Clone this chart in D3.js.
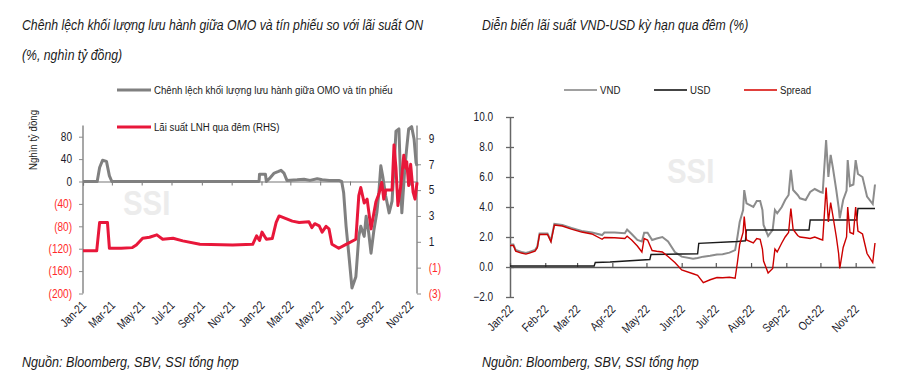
<!DOCTYPE html>
<html>
<head>
<meta charset="utf-8">
<script src="https://cdnjs.cloudflare.com/ajax/libs/d3/7.8.5/d3.min.js"></script>
<style>
	body { margin: 0; background: #fff; }
	svg text { font-family: "Liberation Sans", Arial, sans-serif; }
	.title { font-size: 14.6px; font-style: italic; fill: #1a1a1a; }
	.source { font-size: 15px; font-style: italic; fill: #1a1a1a; }
	.legend { font-size: 11.5px; fill: #1a1a1a; }
	.tick-label { font-size: 12px; fill: #1a1a2a; }
	.neg { fill: #ff2a2a; }
	.watermark { font-size: 35px; font-weight: bold; fill: #ececec; }
</style>
</head>
<body>
<script>
/*
Two charts: OMO vs ON rate (left), VND-USD overnight rates (right)
*/

// ---- left chart data (nghin ty dong, left axis)
var omoDates = ["2021-01-01","2021-01-30","2021-02-04","2021-02-10","2021-02-18","2021-02-24","2021-03-01",
	"2021-12-27","2021-12-28","2022-01-09","2022-01-11","2022-01-17","2022-01-27","2022-02-05","2022-02-10",
	"2022-02-16","2022-02-22","2022-03-15","2022-03-29","2022-04-10","2022-04-25","2022-05-05","2022-05-20",
	"2022-06-08","2022-06-14","2022-06-18","2022-06-23","2022-06-29","2022-07-05","2022-07-13","2022-07-19",
	"2022-07-23","2022-07-30","2022-08-03","2022-08-08","2022-08-13","2022-08-19","2022-08-25","2022-08-29",
	"2022-09-02","2022-09-06","2022-09-12","2022-09-19","2022-09-25","2022-09-30","2022-10-03","2022-10-09",
	"2022-10-13","2022-10-15","2022-10-21","2022-10-25","2022-10-29","2022-11-04","2022-11-09","2022-11-13",
	"2022-11-15"];
var omoValues = [0,0,25,38,36,10,0,
	0,13,13,0,5,15,18,20,
	15,2,3,4,2,5,3,2,
	2,0,-20,-80,-134,-190,-170,-98,
	-80,-98,-62,-90,-128,-86,-55,-20,
	28,9,-26,-56,-35,40,90,94,
	-8,-56,22,60,94,98,76,34,
	28];

// ---- left chart data (%, right axis)
var onDates = ["2021-01-01","2021-01-29","2021-02-04","2021-02-20","2021-02-24","2021-03-20","2021-04-12",
	"2021-04-20","2021-05-03","2021-05-17","2021-06-01","2021-06-13","2021-07-04","2021-07-24","2021-08-28",
	"2021-11-03","2021-12-14","2021-12-22","2021-12-28","2022-01-02","2022-01-11","2022-01-23","2022-01-31",
	"2022-02-06","2022-03-05","2022-03-19","2022-04-08","2022-04-14","2022-04-20","2022-04-29","2022-05-05",
	"2022-05-13","2022-05-19","2022-05-25","2022-06-08","2022-06-23","2022-07-13","2022-07-19","2022-07-23",
	"2022-07-30","2022-08-05","2022-08-13","2022-08-23","2022-08-29","2022-09-04","2022-09-08","2022-09-12",
	"2022-09-25","2022-09-29","2022-10-03","2022-10-07","2022-10-13","2022-10-19","2022-10-23","2022-10-25",
	"2022-10-29","2022-11-02","2022-11-07","2022-11-11","2022-11-15"];
var onValues = [0.3,0.3,2.5,2.5,0.5,0.5,0.55,
	0.75,1.28,1.35,1.54,1.2,1.28,1.07,0.81,
	0.76,0.81,1.46,1.1,1.75,1.2,1.25,2.5,
	3.0,2.6,2.5,2.55,2.1,2.4,2.24,1.75,
	2.2,2.0,0.81,0.5,0.8,1.2,4.57,5.2,
	4.0,4.3,2.0,4.1,4.7,5.6,4.3,5.0,
	5.0,8.5,6.7,3.8,5.35,7.7,6.7,7.2,
	5.35,7.0,4.85,4.3,5.6];

var leftTicks = ["Jan-21","Mar-21","May-21","Jul-21","Sep-21","Nov-21","Jan-22","Mar-22","May-22","Jul-22","Sep-22","Nov-22"];
var leftAxisTicks = [-200,-160,-120,-80,-40,0,40,80];
var rightAxisTicks = [-3,-1,1,3,5,7,9];

// ---- right chart data (%)
var rateDates = ["2022-01-01","2022-01-04","2022-01-06","2022-01-11","2022-01-15","2022-01-18","2022-01-23",
	"2022-01-25","2022-01-27","2022-02-03","2022-02-06","2022-02-09","2022-02-16","2022-02-24","2022-03-05",
	"2022-03-14","2022-03-23","2022-03-25","2022-04-03","2022-04-12","2022-04-14","2022-04-18","2022-04-23",
	"2022-04-27","2022-04-29","2022-05-02","2022-05-06","2022-05-10","2022-05-15","2022-05-20","2022-05-26",
	"2022-06-01","2022-06-11","2022-06-15","2022-06-20","2022-06-26","2022-07-02","2022-07-07","2022-07-13",
	"2022-07-18","2022-07-20","2022-07-22","2022-07-25","2022-07-26","2022-07-28","2022-08-03","2022-08-06",
	"2022-08-09","2022-08-11","2022-08-12","2022-08-16","2022-08-20","2022-08-22","2022-08-24","2022-08-28",
	"2022-08-31","2022-09-03","2022-09-05","2022-09-07","2022-09-11","2022-09-13","2022-09-18","2022-09-22",
	"2022-09-26","2022-10-01","2022-10-03","2022-10-06","2022-10-08","2022-10-10","2022-10-12","2022-10-15",
	"2022-10-17","2022-10-18","2022-10-21","2022-10-24","2022-10-25","2022-10-27","2022-10-30","2022-11-01",
	"2022-11-03","2022-11-07","2022-11-11","2022-11-16","2022-11-18"];
var vndValues = [1.5,1.5,1.13,1.0,0.93,1.0,1.13,
	1.36,2.24,2.24,1.75,2.87,2.8,2.6,2.4,
	2.3,2.13,2.3,2.3,2.25,2.5,2.2,1.8,
	1.7,2.29,2.29,1.8,1.9,2.0,1.7,1.0,
	0.69,0.55,0.6,0.69,0.75,0.84,0.85,0.96,
	1.13,2.0,3.0,3.8,5.13,4.24,4.0,4.4,
	4.4,3.8,2.8,2.07,2.47,3.8,3.58,4.0,
	4.47,4.8,6.47,5.13,4.8,4.58,4.47,5.0,
	5.2,5.0,4.95,8.47,6.0,7.47,6.6,5.1,
	4.0,3.24,4.47,5.1,7.13,5.4,5.5,7.13,
	6.2,6.0,4.7,4.2,5.5];
var spreadValues = [1.43,1.43,1.06,0.93,0.86,0.93,1.06,
	1.29,2.17,2.17,1.68,2.8,2.73,2.53,2.33,
	2.2,1.85,1.97,1.95,1.9,2.05,1.8,1.4,
	1.0,1.9,1.8,1.1,1.05,1.0,0.7,0.3,
	-0.2,-0.45,-0.55,-1.05,-0.85,-0.7,-0.72,-0.68,
	-0.75,0.3,1.5,2.3,3.36,1.8,1.6,1.9,
	1.85,1.2,0.4,-0.4,-0.1,1.2,1.0,1.6,
	2.0,2.3,3.9,2.5,2.1,2.0,1.95,1.9,
	2.0,1.85,1.8,5.3,3.0,4.3,3.4,2.0,
	0.9,-0.1,1.3,2.0,4.0,2.3,2.2,4.0,
	2.4,2.2,0.9,0.3,1.6];
var usdDates = ["2022-01-01","2022-03-16","2022-03-17","2022-03-30","2022-05-04","2022-05-05","2022-06-15",
	"2022-06-16","2022-07-20","2022-07-27","2022-07-28","2022-09-21","2022-09-22","2022-11-02","2022-11-03",
	"2022-11-18"];
var usdValues = [0.07,0.07,0.3,0.33,0.5,0.83,0.88,1.58,1.7,1.75,2.47,2.47,3.13,3.13,3.9,3.9];

var rightTicks = ["Jan-22","Feb-22","Mar-22","Apr-22","May-22","Jun-22","Jul-22","Aug-22","Sep-22","Oct-22","Nov-22"];
var rateAxisTicks = [-2,0,2,4,6,8,10];

var svgWidth = 914;
var svgHeight = 380;
var narrow = 0.84;	//the reference uses a narrow typeface
var svg = null;
var parseDate = d3.timeParse("%Y-%m-%d");
var parseTick = d3.timeParse("%b-%y");

function initSVG(){
	svg = d3.select("body")
			.append("svg")
				.attr("width", svgWidth)
				.attr("height", svgHeight);
	buildLeftChart();
	buildRightChart();
};

//format negatives the accounting way: (40)
function paren(v){
	return v < 0 ? "(" + Math.abs(v) + ")" : "" + v;
};

//text squeezed horizontally around its anchor
function label(g, cls, x, y, txt){
	return g.append("text")
			.attr("class", cls)
			.attr("transform", "translate(" + x + "," + y + ") scale(" + narrow + ",1)")
			.text(txt);
};

function rotatedLabels(g, labels, xScale, y){
	g.selectAll("text.xlab")
		.data(labels)
		.enter()
		.append("text")
			.attr("class", "tick-label")
			.attr("text-anchor", "end")
			.attr("transform", function(d){ return "translate(" + (xScale(parseTick(d)) + 4) + "," + y + ") rotate(-45) scale(" + narrow + ",1)"; })
			.text(function(d){ return d; });
};

function styleTicks(ax){
	ax.selectAll(".tick text")
		.attr("class", function(d){ return d < 0 ? "tick-label neg" : "tick-label"; })
		.attr("font-family", null)
		.attr("font-size", null)
		.attr("transform", "scale(" + narrow + ",1)");
};

function buildLeftChart(){
	var g = svg.append("g");

	label(g, "title", 22, 30, "Chênh lệch khối lượng lưu hành giữa OMO và tín phiếu so với lãi suất ON");
	label(g, "title", 22, 60, "(%, nghìn tỷ đồng)");

	var xScale = d3.scaleTime()
					.domain([parseDate("2021-01-01"), parseDate("2022-11-15")])
					.range([83, 417]);
	var yLeft = d3.scaleLinear()
					.domain([-200, 100])
					.range([293.5, 125.5]);
	var yRight = d3.scaleLinear()
					.domain([-3, 10])
					.range([293.5, 125.5]);

	//watermark
	label(g, "watermark", 123, 215, "SSI");

	//left axis
	var axL = g.append("g")
				.attr("transform", "translate(83,0)")
				.call(d3.axisLeft(yLeft).tickValues(leftAxisTicks).tickSize(4).tickPadding(9).tickFormat(paren));
	axL.select(".domain").attr("d", "M0," + yLeft(100) + "V" + yLeft(-200)).attr("stroke", "#8a8a8a").attr("stroke-width", 1.5);
	axL.selectAll(".tick line").attr("stroke", "#8a8a8a");
	styleTicks(axL);

	//right axis
	var axR = g.append("g")
				.attr("transform", "translate(417,0)")
				.call(d3.axisRight(yRight).tickValues(rightAxisTicks).tickSize(4).tickPadding(10).tickFormat(paren));
	axR.select(".domain").attr("d", "M0," + yRight(10) + "V" + yRight(-3)).attr("stroke", "#8a8a8a").attr("stroke-width", 1.5);
	axR.selectAll(".tick line").attr("stroke", "#8a8a8a");
	styleTicks(axR);

	//y title
	g.append("text")
		.attr("class", "legend")
		.attr("text-anchor", "middle")
		.attr("transform", "translate(37,140) rotate(-90) scale(" + narrow + ",1)")
		.text("Nghìn tỷ đồng");

	//zero axis with month ticks
	var tickDates = leftTicks.map(function(d){ return parseTick(d); });
	var axX = g.append("g")
				.attr("transform", "translate(0," + yLeft(0) + ")")
				.call(d3.axisBottom(xScale).tickValues(tickDates).tickSize(4).tickFormat(""));
	axX.select(".domain").attr("stroke", "#777").attr("stroke-width", 1.2);
	axX.selectAll(".tick line").attr("stroke", "#777");
	rotatedLabels(g, leftTicks, xScale, 306);

	//lines
	var omoData = omoDates.map(function(d, i){ return {date: parseDate(d), value: omoValues[i]}; });
	var onData = onDates.map(function(d, i){ return {date: parseDate(d), value: onValues[i]}; });
	var lineOmo = d3.line()
					.x(function(d){ return xScale(d.date); })
					.y(function(d){ return yLeft(d.value); });
	var lineOn = d3.line()
					.x(function(d){ return xScale(d.date); })
					.y(function(d){ return yRight(d.value); });
	g.append("path").datum(omoData)
		.attr("fill", "none").attr("stroke", "#808080").attr("stroke-width", 3)
		.attr("stroke-linejoin", "round")
		.attr("d", lineOmo);
	g.append("path").datum(onData)
		.attr("fill", "none").attr("stroke", "#e8173a").attr("stroke-width", 3)
		.attr("stroke-linejoin", "round")
		.attr("d", lineOn);

	//legend
	var legend = [
		{label: "Chênh lệch khối lượng lưu hành giữa OMO và tín phiếu", color: "#808080", y: 90},
		{label: "Lãi suất LNH qua đêm (RHS)", color: "#e8173a", y: 127}
	];
	legend.forEach(function(l){
		g.append("line").attr("x1", 117).attr("x2", 151).attr("y1", l.y).attr("y2", l.y)
			.attr("stroke", l.color).attr("stroke-width", 3);
		label(g, "legend", 154, l.y + 4, l.label);
	});

	label(g, "source", 22, 367, "Nguồn:  Bloomberg, SBV, SSI tổng hợp");
};

function buildRightChart(){
	var g = svg.append("g");

	label(g, "title", 482, 30, "Diễn biến lãi suất VND-USD kỳ hạn qua đêm (%)");

	var xScale = d3.scaleTime()
					.domain([parseDate("2022-01-01"), parseDate("2022-11-18")])
					.range([510, 875]);
	var yScale = d3.scaleLinear()
					.domain([-2, 10])
					.range([297, 117]);

	label(g, "watermark", 667, 183, "SSI");

	var axY = g.append("g")
				.attr("transform", "translate(510,0)")
				.call(d3.axisLeft(yScale).tickValues(rateAxisTicks).tickSizeInner(8).tickSizeOuter(0).tickPadding(12).tickFormat(d3.format(".1f")));
	axY.select(".domain").attr("stroke", "#666").attr("stroke-width", 1.5);
	axY.selectAll(".tick line").attr("x2", 4).attr("x1", -4).attr("stroke", "#666").attr("stroke-width", 1.3);
	styleTicks(axY);
	axY.selectAll(".tick text").attr("class", "tick-label");

	var tickDates = rightTicks.map(function(d){ return parseTick(d); });
	var axX = g.append("g")
				.attr("transform", "translate(0," + yScale(0) + ")")
				.call(d3.axisTop(xScale).tickValues(tickDates).tickSize(4).tickSizeOuter(0).tickFormat(""));
	axX.select(".domain").attr("stroke", "#555").attr("stroke-width", 1.5);
	axX.selectAll(".tick line").attr("stroke", "#555").attr("stroke-width", 1.2);
	rotatedLabels(g, rightTicks, xScale, 310);

	var line = d3.line()
				.x(function(d){ return xScale(d.date); })
				.y(function(d){ return yScale(d.value); });
	var vndData = rateDates.map(function(d, i){ return {date: parseDate(d), value: vndValues[i]}; });
	var spreadData = rateDates.map(function(d, i){ return {date: parseDate(d), value: spreadValues[i]}; });
	var usdData = usdDates.map(function(d, i){ return {date: parseDate(d), value: usdValues[i]}; });

	g.append("path").datum(vndData)
		.attr("fill", "none").attr("stroke", "#8c8c8c").attr("stroke-width", 2)
		.attr("d", line);
	g.append("path").datum(usdData)
		.attr("fill", "none").attr("stroke", "#1a1a1a").attr("stroke-width", 1.4)
		.attr("d", line);
	g.append("path").datum(spreadData)
		.attr("fill", "none").attr("stroke", "#cc0000").attr("stroke-width", 1.4)
		.attr("d", line);

	var legend = [
		{label: "VND", color: "#a0a0a0", x: 564},
		{label: "USD", color: "#444", x: 654},
		{label: "Spread", color: "#e0403c", x: 744}
	];
	legend.forEach(function(l){
		g.append("line").attr("x1", l.x).attr("x2", l.x + 33).attr("y1", 90).attr("y2", 90)
			.attr("stroke", l.color).attr("stroke-width", 2);
		label(g, "legend", l.x + 36, 94, l.label);
	});

	label(g, "source", 482, 367, "Nguồn:  Bloomberg, SBV, SSI tổng hợp");
};

initSVG();
</script>
</body>
</html>
